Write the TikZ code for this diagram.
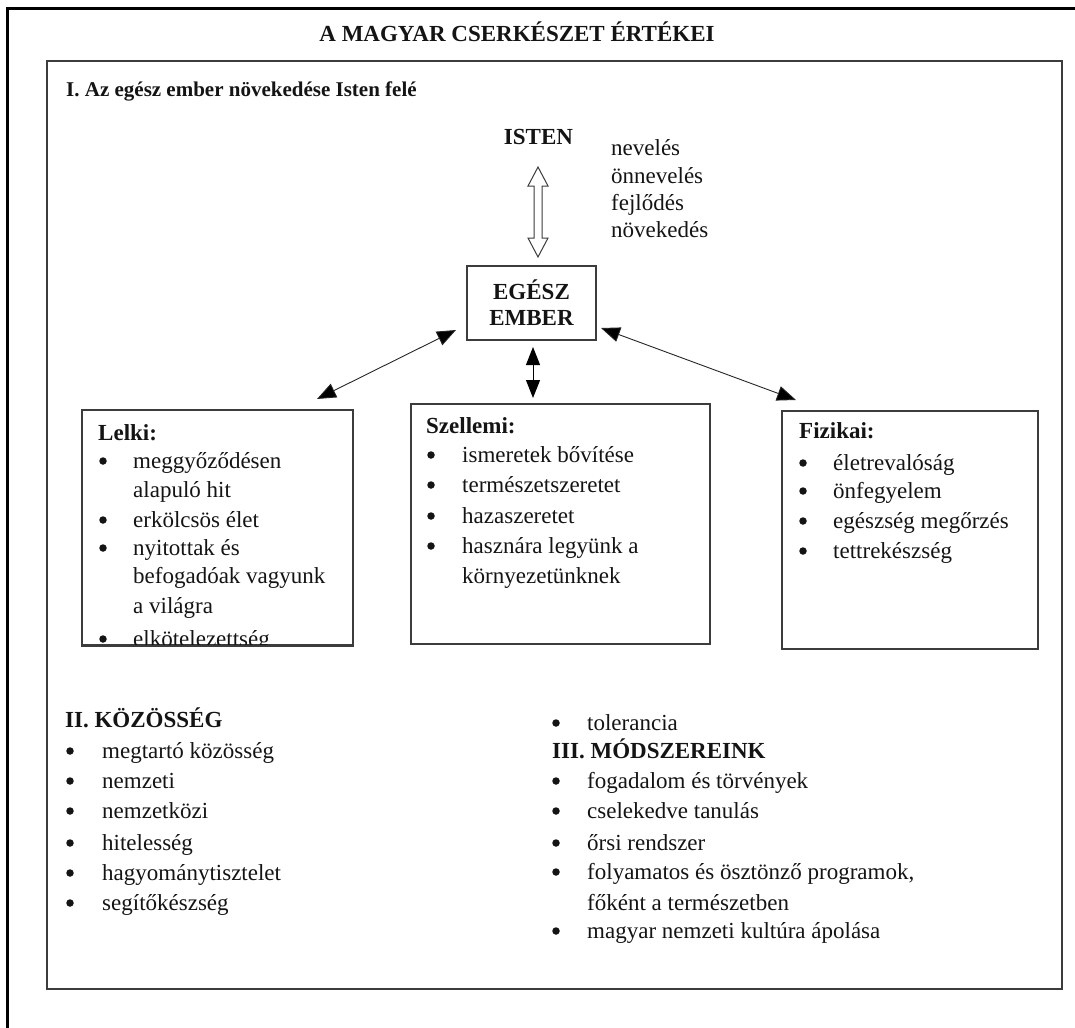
\documentclass[tikz,border=0pt]{standalone}
\usepackage{fontspec}
\setmainfont{Liberation Serif}
\usetikzlibrary{arrows.meta}
\definecolor{ln}{RGB}{60,60,60}
\definecolor{tx}{RGB}{20,20,20}
\tikzset{
  body/.style={anchor=base west, inner sep=0pt, text=tx, font=\fontsize{23}{27}\selectfont},
  bodyb/.style={anchor=base west, inner sep=0pt, text=tx, font=\fontsize{23}{27}\selectfont\bfseries},
  dot/.style={circle, fill=tx, inner sep=0pt, minimum size=7.5pt},
  boxst/.style={draw=ln, line width=1.5pt, inner sep=0pt},
  conn/.style={draw=black!85, line width=0.9pt, {Triangle[length=19pt,width=15pt,fill=black]}-{Triangle[length=19pt,width=15pt,fill=black]}},
  vconn/.style={draw=black, line width=1pt, {Triangle[length=18pt,width=14pt]}-{Triangle[length=18pt,width=14pt]}},
}
\newcommand\bitem[5]{%
  \node[dot] (#1b) at (#2,#4-7) {};
  \node[body] (#1) at (#3,#4) {#5};}
\newcommand\citem[4]{%
  \node[body] (#1) at (#2,#3) {#4};}
\begin{document}
\begin{tikzpicture}[x=1pt,y=-1pt]
\useasboundingbox (0,0) rectangle (1075,1027);
% outer frame (cropped)
\draw[black, line width=3pt] (7,1040) -- (7,9) -- (1090,9);
% inner frame
\node[boxst, minimum width=1015pt, minimum height=928pt] (frame) at (554.5,525) {};
% title
\node[anchor=base, inner sep=0pt, text=tx, font=\fontsize{23}{27}\selectfont\bfseries] (title) at (517,42) {A MAGYAR CSERKÉSZET ÉRTÉKEI};
% section I
\node[anchor=base west, inner sep=0pt, text=tx, font=\fontsize{21}{25}\selectfont\bfseries] (h1) at (66,97) {I. Az egész ember növekedése Isten felé};
\node[anchor=base, inner sep=0pt, text=tx, font=\fontsize{23}{27}\selectfont\bfseries] (isten) at (538.5,145) {ISTEN};
\citem{n1}{611}{156}{nevelés}
\citem{n2}{611}{183}{önnevelés}
\citem{n3}{611}{210}{fejlődés}
\citem{n4}{611}{237}{növekedés}
% hollow double arrow
\coordinate (hT) at (538,167);
\coordinate (hB) at (538,257);
\draw[ln, line width=1pt, fill=white] (hT) -- ++(10,19) -- ++(-6,0) -- ++(0,52) -- ++(6,0) -- (hB)
  -- ++(-10,-19) -- ++(6,0) -- ++(0,-52) -- ++(-6,0) -- cycle;
% EGESZ EMBER
\node[boxst, minimum width=129pt, minimum height=74pt, align=center, text=tx,
      font=\fontsize{23}{26}\selectfont\bfseries] (eg) at (531.5,303) {EGÉSZ\\EMBER};
% three boxes
\node[boxst, minimum width=271pt, minimum height=235pt] (lelki) at (217.5,527.5) {};
\node[boxst, minimum width=299pt, minimum height=240pt] (szell) at (560.5,524) {};
\node[boxst, minimum width=256pt, minimum height=238pt] (fiz) at (910,530) {};
% connectors
\coordinate (lA) at (456,330);
\coordinate (lB) at (317,399);
\coordinate (rA) at (601,328);
\coordinate (rB) at (796,400);
\coordinate (vA) at (533,347);
\coordinate (vB) at (533,398);
\draw[conn] (lA) -- (lB);
\draw[conn] (rA) -- (rB);
\draw[vconn] (vA) -- (vB);
% Lelki
\begin{scope}
\clip (83,411) rectangle (352,645);
\node[bodyb] (lh) at (98,440) {Lelki:};
\bitem{l1}{103}{133}{468}{meggyőződésen}
\citem{l2}{133}{497}{alapuló hit}
\bitem{l3}{103}{133}{527}{erkölcsös élet}
\bitem{l4}{103}{133}{555}{nyitottak és}
\citem{l5}{133}{583}{befogadóak vagyunk}
\citem{l6}{133}{613}{a világra}
\bitem{l7}{103}{133}{646}{elkötelezettség}
\end{scope}
\draw[ln, line width=1.5pt] (lelki.south west) -- (lelki.south east);
% Szellemi
\node[bodyb] (sh) at (426,433) {Szellemi:};
\bitem{s1}{431}{462}{462}{ismeretek bővítése}
\bitem{s2}{431}{462}{492}{természetszeretet}
\bitem{s3}{431}{462}{523}{hazaszeretet}
\bitem{s4}{431}{462}{553}{hasznára legyünk a}
\citem{s5}{462}{583}{környezetünknek}
% Fizikai
\node[bodyb] (fh) at (799,438) {Fizikai:};
\bitem{f1}{803}{833}{470}{életrevalóság}
\bitem{f2}{803}{833}{498}{önfegyelem}
\bitem{f3}{803}{833}{528}{egészség megőrzés}
\bitem{f4}{803}{833}{558}{tettrekészség}
% II
\node[bodyb] (h2) at (65,727) {II. KÖZÖSSÉG};
\bitem{k1}{70}{102}{758}{megtartó közösség}
\bitem{k2}{70}{102}{788}{nemzeti}
\bitem{k3}{70}{102}{818}{nemzetközi}
\bitem{k4}{70}{102}{850}{hitelesség}
\bitem{k5}{70}{102}{880}{hagyománytisztelet}
\bitem{k6}{70}{102}{910}{segítőkészség}
% right column
\bitem{k7}{556}{587}{730}{tolerancia}
\node[bodyb] (h3) at (552,758) {III. MÓDSZEREINK};
\bitem{m1}{556}{587}{788}{fogadalom és törvények}
\bitem{m2}{556}{587}{818}{cselekedve tanulás}
\bitem{m3}{556}{587}{850}{őrsi rendszer}
\bitem{m4}{556}{587}{879}{folyamatos és ösztönző programok,}
\citem{m5}{587}{910}{főként a természetben}
\bitem{m6}{556}{587}{938}{magyar nemzeti kultúra ápolása}
\end{tikzpicture}
\end{document}
